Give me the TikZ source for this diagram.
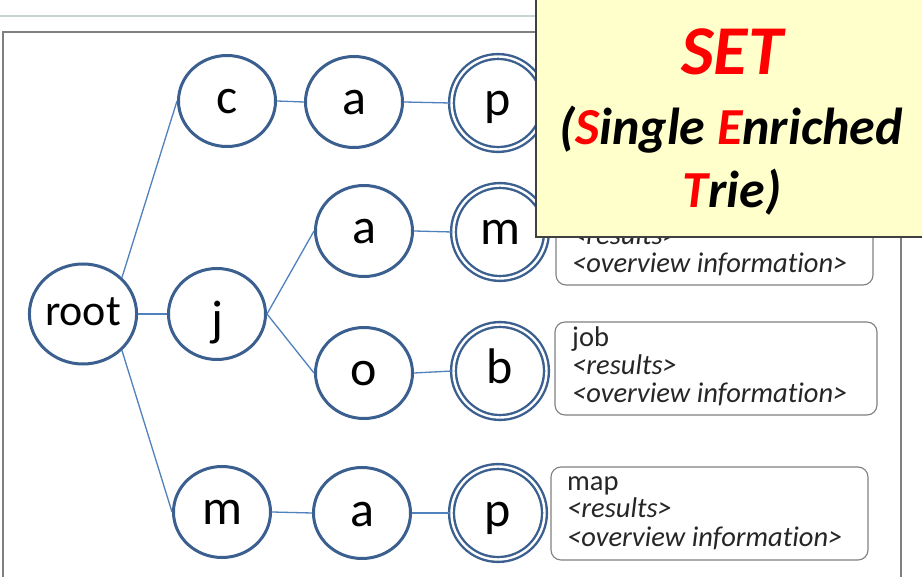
\documentclass[tikz,border=0pt]{standalone}
\usepackage{fontspec}
\setmainfont{Carlito}[Ligatures=NoCommon]
\usetikzlibrary{shapes.geometric}
\definecolor{ringblue}{RGB}{59,96,143}
\definecolor{linkblue}{RGB}{79,129,189}
\definecolor{noteyellow}{RGB}{255,255,204}
\definecolor{framegray}{RGB}{128,128,128}
\definecolor{topline}{RGB}{197,211,211}
\definecolor{infotext}{RGB}{38,38,38}
\tikzset{
  letter/.style={ellipse, draw=ringblue, line width=3pt, fill=white, inner sep=0pt,
    minimum width=97pt, minimum height=91pt, text=black,
    font=\fontsize{50}{52}\selectfont, text height=26pt, text depth=0pt},
  final/.style={letter, line width=2.4pt, double=white, double distance=2.4pt,
    minimum width=93pt, minimum height=93pt},
  link/.style={draw=linkblue, line width=1.3pt},
  infobox/.style={draw=framegray, line width=1.1pt, rounded corners=10pt, fill=white},
  infoline/.style={anchor=base west, inner sep=0pt, text=infotext,
    font=\fontsize{28.5}{29}\selectfont},
  settext/.style={anchor=base, inner sep=0pt, font=\bfseries\itshape}
}
\begin{document}
\begin{tikzpicture}[x=1pt,y=-1pt]
\useasboundingbox (0,0) rectangle (922,577);
\clip (0,0) rectangle (922,577);
\fill[white] (0,0) rectangle (922,577);
% frame
\draw[topline, line width=2pt] (0,16.5) -- (540,16.5);
\draw[framegray, line width=1.5pt] (3,32) rectangle (901,620);

% info boxes
\draw[infobox] (556,192) rectangle (873,285);
\node[infoline] (r1) at (572,245) {\itshape <results>};
\node[infoline] (o1) at (572,273) {\itshape <overview information>};

\draw[infobox] (555,322) rectangle (877,415);
\node[infoline] (w2) at (572,347) {job};
\node[infoline] (r2) at (572,375) {\itshape <results>};
\node[infoline] (o2) at (572,403) {\itshape <overview information>};

\draw[infobox] (551,467) rectangle (868,560);
\node[infoline] (w3) at (567,490) {map};
\node[infoline] (r3) at (567,518) {\itshape <results>};
\node[infoline] (o3) at (567,547) {\itshape <overview information>};

% trie nodes
\node[letter, minimum height=100pt, font=\fontsize{44}{46}\selectfont, text height=23pt] (root) at (83,314) {root};
\node[letter] (j) at (217,314) {\raisebox{-9pt}{j}};
\node[letter] (c) at (227,101) {c};
\node[letter] (ca) at (354,102) {a};
\node[final] (cp) at (498,103) {p};
\node[letter] (ja) at (364,231) {a};
\node[final] (jm) at (500,232) {m};
\node[letter] (jo) at (364,373) {o};
\node[final] (jb) at (500,371) {b};
\node[letter] (m) at (222,512) {m};
\node[letter] (ma) at (362,513) {a};
\node[final] (mp) at (498,513) {p};

% connectors
\draw[link] (root.north east) -- (c.west);
\draw[link] (root.east) -- (j.west);
\draw[link] (root.south east) -- (m.west);
\draw[link] (c.east) -- (ca.west);
\draw[link] (ca.east) -- (cp.west);
\draw[link] (j.east) -- (ja.west);
\draw[link] (j.east) -- (jo.west);
\draw[link] (ja.east) -- (jm.west);
\draw[link] (jo.east) -- (jb.west);
\draw[link] (m.east) -- (ma.west);
\draw[link] (ma.east) -- (mp.west);

% yellow note
\draw[fill=noteyellow, draw=black!75, line width=2pt] (536,-10) rectangle (940,237);
\node[settext, text=red, font=\bfseries\itshape\fontsize{70}{72}\selectfont] (set) at (732,75) {SET};
\node[settext, font=\bfseries\itshape\fontsize{52}{54}\selectfont] (l2) at (731,145)
  {(\textcolor{red}{S}ingle \textcolor{red}{E}nriched};
\node[settext, font=\bfseries\itshape\fontsize{52}{54}\selectfont] (l3) at (732,208)
  {\textcolor{red}{T}rie)};
\end{tikzpicture}
\end{document}
